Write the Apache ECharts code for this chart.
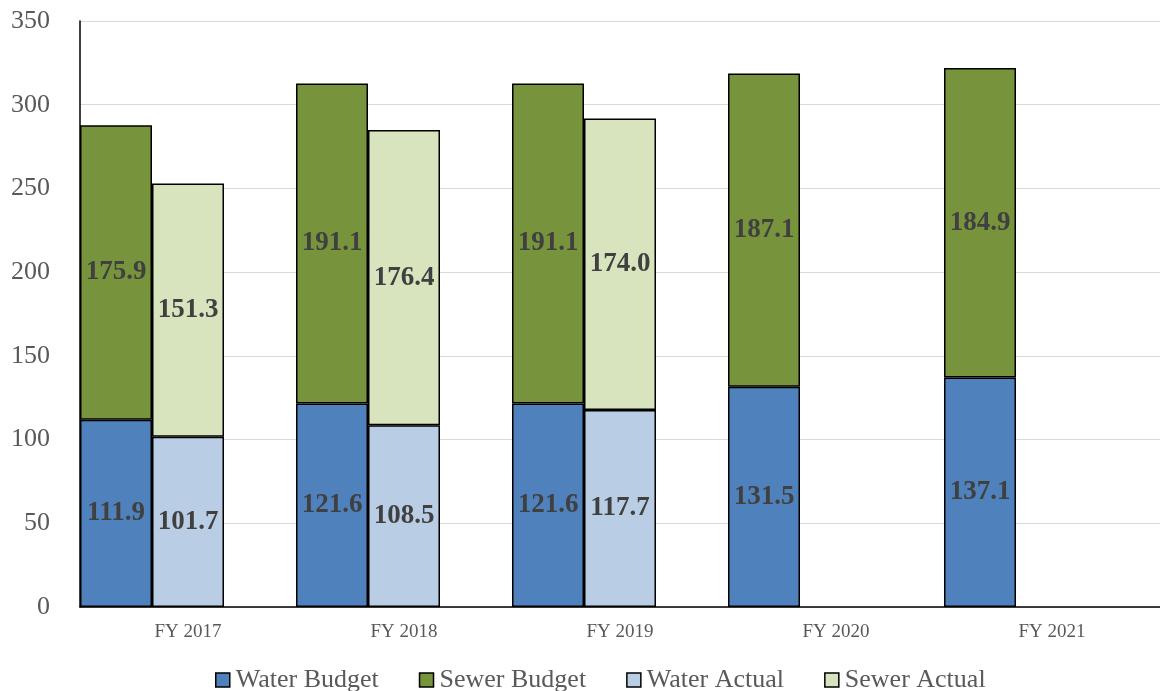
<!DOCTYPE html>
<html>
<head>
<meta charset="utf-8">
<script src="https://cdn.jsdelivr.net/npm/echarts@6/dist/echarts.min.js"></script>
<style>
  html, body { margin: 0; padding: 0; background: #fff; }
  #main { width: 1160px; height: 691px; }
</style>
</head>
<body>
<div id="main"></div>
<script>
var years = ['FY 2017', 'FY 2018', 'FY 2019', 'FY 2020', 'FY 2021'];
var waterBudget = [111.9, 121.6, 121.6, 131.5, 137.1];
var sewerBudget = [175.9, 191.1, 191.1, 187.1, 184.9];
var waterActual = [101.7, 108.5, 117.7, null, null];
var sewerActual = [151.3, 176.4, 174.0, null, null];
var yTicks = [0, 50, 100, 150, 200, 250, 300, 350];

var myChart = echarts.init(document.getElementById('main'));

var labelStyle = {
    show: true,
    position: 'inside',
    color: '#404040',
    fontFamily: 'Liberation Serif',
    fontWeight: 'bold',
    fontSize: 27,
    formatter: function (p) { return p.value == null ? '' : Number(p.value).toFixed(1); }
};

function barSeries(name, stack, data, color) {
    return {
        name: name,
        type: 'bar',
        stack: stack,
        data: data,
        barGap: '0%',
        barCategoryGap: '0%',
        itemStyle: { color: color, borderColor: '#000', borderWidth: 1.5 },
        label: labelStyle
    };
}

myChart.setOption({
    animation: false,
    grid: { left: 80, right: 0, top: 21, bottom: 84, containLabel: false },
    legend: {
        top: 662,
        left: 210,
        itemWidth: 14,
        itemHeight: 14,
        itemGap: 40,
        icon: 'rect',
        data: ['Water Budget', 'Sewer Budget', 'Water Actual', 'Sewer Actual'],
        textStyle: { fontFamily: 'Liberation Serif', fontSize: 26, color: '#595959', padding: [0, 0, 0, 1] },
        itemStyle: { borderColor: '#000', borderWidth: 1.5 }
    },
    xAxis: {
        type: 'category',
        data: years,
        axisLine: { lineStyle: { color: '#000', width: 1.5 } },
        axisTick: { show: false },
        axisLabel: { fontFamily: 'Liberation Serif', fontSize: 19, color: '#595959', margin: 16 }
    },
    yAxis: {
        type: 'value',
        min: yTicks[0],
        max: yTicks[yTicks.length - 1],
        interval: 50,
        axisLine: { show: true, lineStyle: { color: '#000', width: 1.5 } },
        axisTick: { show: false },
        splitLine: { lineStyle: { color: '#d9d9d9', width: 1.2 } },
        axisLabel: { fontFamily: 'Liberation Serif', fontSize: 26, color: '#595959', margin: 30 }
    },
    series: [
        barSeries('Water Budget', 'budget', waterBudget, '#4f81bd'),
        barSeries('Sewer Budget', 'budget', sewerBudget, '#77933c'),
        barSeries('Water Actual', 'actual', waterActual, '#b9cde5'),
        barSeries('Sewer Actual', 'actual', sewerActual, '#d7e4bd'),
        {
            name: 'gap',
            type: 'bar',
            stack: 'gap',
            data: years.map(function () { return null; }),
            barGap: '0%',
            barCategoryGap: '0%',
            silent: true
        }
    ]
});
</script>
</body>
</html>
